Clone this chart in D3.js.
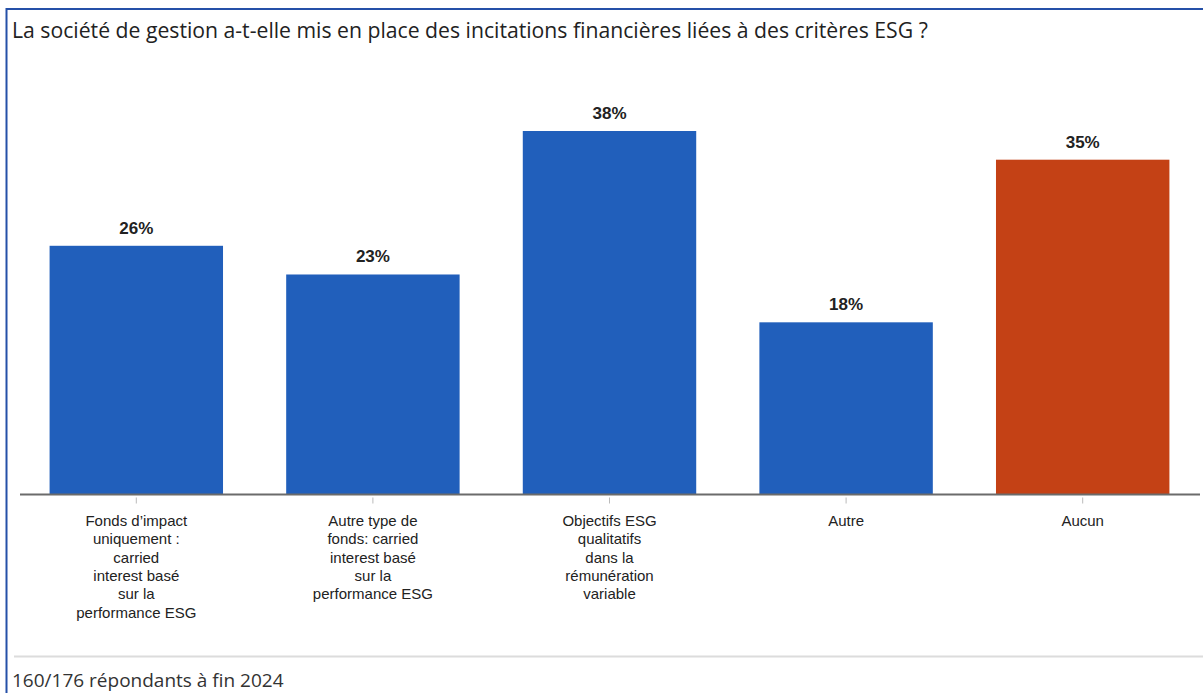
<!DOCTYPE html>
<html lang="fr">
<head>
<meta charset="utf-8">
<script src="https://cdn.jsdelivr.net/npm/d3@7"></script>
<style>
  html, body { margin: 0; padding: 0; background: #fff; }
  svg { display: block; }
</style>
</head>
<body>
<svg id="chart" width="1203" height="693"></svg>
<script>
// Réponses à la question sur les incitations financières ESG
const categories = [
  ["Fonds d\u2019impact", "uniquement :", "carried", "interest basé", "sur la", "performance ESG"],
  ["Autre type de", "fonds: carried", "interest basé", "sur la", "performance ESG"],
  ["Objectifs ESG", "qualitatifs", "dans la", "rémunération", "variable"],
  ["Autre"],
  ["Aucun"]
];
const categoryKeys = ["impact", "autreFonds", "objectifs", "autre", "aucun"];
const values = [26, 23, 38, 18, 35];
const highlighted = ["aucun"];

const title = "La société de gestion a-t-elle mis en place des incitations financières liées à des critères ESG ?";
const footnote = "160/176 répondants à fin 2024";

const svg = d3.select("#chart");
const W = 1203, H = 693;

// Cadre bleu (haut et gauche)
svg.append("line").attr("x1", 6).attr("x2", W).attr("y1", 9).attr("y2", 9)
  .attr("stroke", "#2550a8").attr("stroke-width", 2);
svg.append("line").attr("x1", 6.5).attr("x2", 6.5).attr("y1", 8).attr("y2", H)
  .attr("stroke", "#2550a8").attr("stroke-width", 2);

// Titre
svg.append("text")
  .attr("x", 12).attr("y", 38)
  .attr("font-family", "'Open Sans', 'Noto Sans', sans-serif")
  .attr("font-size", 21.2)
  .attr("fill", "#222")
  .text(title);

const x = d3.scaleBand()
  .domain(categoryKeys)
  .range([18, 1201])
  .paddingInner(0.267)
  .paddingOuter(0.1335);

const baseY = 494.5;
const y = d3.scaleLinear().domain([0, 38]).range([baseY, 131]);

const data = categoryKeys.map((k, i) => ({ key: k, value: values[i], lines: categories[i] }));

// Barres
svg.append("g").selectAll("rect")
  .data(data)
  .join("rect")
  .attr("x", d => x(d.key))
  .attr("y", d => y(d.value))
  .attr("width", x.bandwidth())
  .attr("height", d => baseY - y(d.value))
  .attr("fill", d => highlighted.includes(d.key) ? "#c44115" : "#215fbb");

// Étiquettes de valeur
svg.append("g").selectAll("text")
  .data(data)
  .join("text")
  .attr("x", d => x(d.key) + x.bandwidth() / 2)
  .attr("y", d => y(d.value) - 12)
  .attr("text-anchor", "middle")
  .attr("font-family", "'Liberation Sans', Arial, sans-serif")
  .attr("font-weight", "bold")
  .attr("font-size", 17)
  .attr("fill", "#222")
  .text(d => d.value + "%");

// Axe des catégories
const axis = d3.axisBottom(x).tickSize(6).tickSizeOuter(0).tickFormat("");
const gAxis = svg.append("g").attr("transform", `translate(0,${baseY})`).call(axis);
gAxis.select(".domain").attr("stroke", "#6b6b6b").attr("stroke-width", 2)
  .attr("d", `M20,0H1200`);
gAxis.selectAll(".tick line").attr("stroke", "#bbb").attr("y1", 3).attr("y2", 9);

// Libellés des catégories (multilignes)
const labels = svg.append("g").selectAll("text")
  .data(data)
  .join("text")
  .attr("text-anchor", "middle")
  .attr("font-family", "'Liberation Sans', Arial, sans-serif")
  .attr("font-size", 15)
  .attr("fill", "#222");
labels.each(function(d) {
  const t = d3.select(this);
  d.lines.forEach((ln, i) => {
    t.append("tspan")
      .attr("x", x(d.key) + x.bandwidth() / 2)
      .attr("y", 526 + i * 18.3)
      .text(ln);
  });
});

// Séparateur et note de bas
svg.append("line").attr("x1", 14).attr("x2", W).attr("y1", 656.5).attr("y2", 656.5)
  .attr("stroke", "#dcdcdc").attr("stroke-width", 2);
svg.append("text")
  .attr("x", 12).attr("y", 687)
  .attr("font-family", "'Open Sans', 'Noto Sans', sans-serif")
  .attr("font-size", 19)
  .attr("fill", "#333")
  .text(footnote);
</script>
</body>
</html>
